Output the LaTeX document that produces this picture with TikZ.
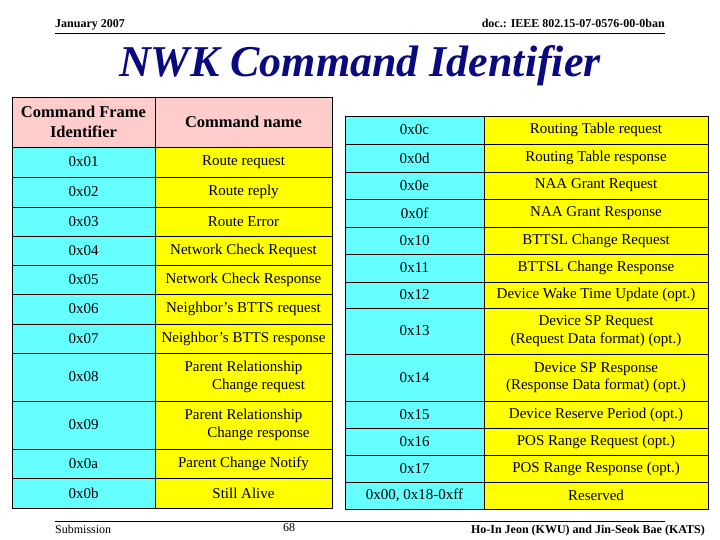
\documentclass[tikz,border=0pt]{standalone}
\usepackage{fontspec}
\setmainfont{Liberation Serif}
\definecolor{cy}{HTML}{66FFFF}
\definecolor{ye}{HTML}{FFFF00}
\definecolor{pk}{HTML}{FFCCCC}
\definecolor{navy}{HTML}{0A0A80}
\newcommand{\cellbox}[7]{%
  \path[draw=black,line width=0.8pt,fill=#6] (#2,#3) rectangle (#4,#5);
  \node[cell] (#1) at ({(#2+#4)/2},{(#3+#5)/2}) {#7};}
\begin{document}
\begin{tikzpicture}[x=1pt,y=-1pt,
  cell/.style={align=center,inner sep=0pt,font=\fontsize{15}{17.5}\selectfont},
  hdr/.style={font=\fontsize{16.5}{20}\selectfont\bfseries,align=center,inner sep=0pt},
  small/.style={font=\fontsize{12}{13}\selectfont,inner sep=0pt}]
\useasboundingbox[fill=white] (0,0) rectangle (720,540);
\node[small,font=\fontsize{12}{13}\selectfont\bfseries,anchor=base west] (date) at (55,28) {January 2007};
\node[small,font=\fontsize{12}{13}\selectfont\bfseries,anchor=base east] (doc) at (665,28) {doc.: IEEE 802.15-07-0576-00-0ban};
\draw[line width=1pt] (55,34) -- (665,34);
\node[font=\fontsize{44}{48}\selectfont\bfseries\itshape,text=navy,inner sep=0pt] (title) at (360,66) {NWK Command Identifier};
% left table
\path[draw=black,line width=0.8pt,fill=pk] (12,97) rectangle (155,147);
\node[hdr] (h1) at (83.5,122) {Command Frame\\Identifier};
\cellbox{l1a}{12}{147}{155}{177}{cy}{0x01}
\cellbox{l1b}{155}{147}{332}{177}{ye}{Route request}
\cellbox{l2a}{12}{177}{155}{207}{cy}{0x02}
\cellbox{l2b}{155}{177}{332}{207}{ye}{Route reply}
\cellbox{l3a}{12}{207}{155}{236}{cy}{0x03}
\cellbox{l3b}{155}{207}{332}{236}{ye}{Route Error}
\cellbox{l4a}{12}{236}{155}{265}{cy}{0x04}
\cellbox{l4b}{155}{236}{332}{265}{ye}{Network Check Request}
\cellbox{l5a}{12}{265}{155}{294}{cy}{0x05}
\cellbox{l5b}{155}{265}{332}{294}{ye}{Network Check Response}
\cellbox{l6a}{12}{294}{155}{324}{cy}{0x06}
\cellbox{l6b}{155}{294}{332}{324}{ye}{Neighbor's BTTS request}
\cellbox{l7a}{12}{324}{155}{353}{cy}{0x07}
\cellbox{l7b}{155}{324}{332}{353}{ye}{Neighbor's BTTS response}
\cellbox{l8a}{12}{353}{155}{401}{cy}{0x08}
\cellbox{l8b}{155}{353}{332}{401}{ye}{Parent Relationship\\\hspace*{2em}Change request}
\cellbox{l9a}{12}{401}{155}{449}{cy}{0x09}
\cellbox{l9b}{155}{401}{332}{449}{ye}{Parent Relationship\\\hspace*{2em}Change response}
\cellbox{l10a}{12}{449}{155}{478}{cy}{0x0a}
\cellbox{l10b}{155}{449}{332}{478}{ye}{Parent Change Notify}
\cellbox{l11a}{12}{478}{155}{508}{cy}{0x0b}
\cellbox{l11b}{155}{478}{332}{508}{ye}{Still Alive}
\path[draw=black,line width=0.8pt,fill=pk] (155,97) rectangle (332,147);
\node[hdr] (hname) at (243.5,122) {Command name};
% right table
\cellbox{r1a}{345}{116}{484}{144}{cy}{0x0c}
\cellbox{r1b}{484}{116}{708}{144}{ye}{Routing Table request}
\cellbox{r2a}{345}{144}{484}{172}{cy}{0x0d}
\cellbox{r2b}{484}{144}{708}{172}{ye}{Routing Table response}
\cellbox{r3a}{345}{172}{484}{199}{cy}{0x0e}
\cellbox{r3b}{484}{172}{708}{199}{ye}{NAA Grant Request}
\cellbox{r4a}{345}{199}{484}{227}{cy}{0x0f}
\cellbox{r4b}{484}{199}{708}{227}{ye}{NAA Grant Response}
\cellbox{r5a}{345}{227}{484}{254}{cy}{0x10}
\cellbox{r5b}{484}{227}{708}{254}{ye}{BTTSL Change Request}
\cellbox{r6a}{345}{254}{484}{282}{cy}{0x11}
\cellbox{r6b}{484}{254}{708}{282}{ye}{BTTSL Change Response}
\cellbox{r7a}{345}{282}{484}{308}{cy}{0x12}
\cellbox{r7b}{484}{282}{708}{308}{ye}{Device Wake Time Update (opt.)}
\cellbox{r8a}{345}{308}{484}{354}{cy}{0x13}
\cellbox{r8b}{484}{308}{708}{354}{ye}{Device SP Request\\(Request Data format) (opt.)}
\cellbox{r9a}{345}{354}{484}{401}{cy}{0x14}
\cellbox{r9b}{484}{354}{708}{401}{ye}{Device SP Response\\(Response Data format) (opt.)}
\cellbox{r10a}{345}{401}{484}{428}{cy}{0x15}
\cellbox{r10b}{484}{401}{708}{428}{ye}{Device Reserve Period (opt.)}
\cellbox{r11a}{345}{428}{484}{455}{cy}{0x16}
\cellbox{r11b}{484}{428}{708}{455}{ye}{POS Range Request (opt.)}
\cellbox{r12a}{345}{455}{484}{482}{cy}{0x17}
\cellbox{r12b}{484}{455}{708}{482}{ye}{POS Range Response (opt.)}
\cellbox{r13a}{345}{482}{484}{509}{cy}{0x00, 0x18-0xff}
\cellbox{r13b}{484}{482}{708}{509}{ye}{Reserved}
% footer
\draw[line width=1pt] (55,521) -- (665,521);
\node[small,anchor=base west] (sub) at (55,533) {Submission};
\node[small,anchor=base] (pg) at (289,531) {68};
\node[small,font=\fontsize{12}{13}\selectfont\bfseries,anchor=base east] (auth) at (705,533) {Ho-In Jeon (KWU) and Jin-Seok Bae (KATS)};
\end{tikzpicture}
\end{document}
